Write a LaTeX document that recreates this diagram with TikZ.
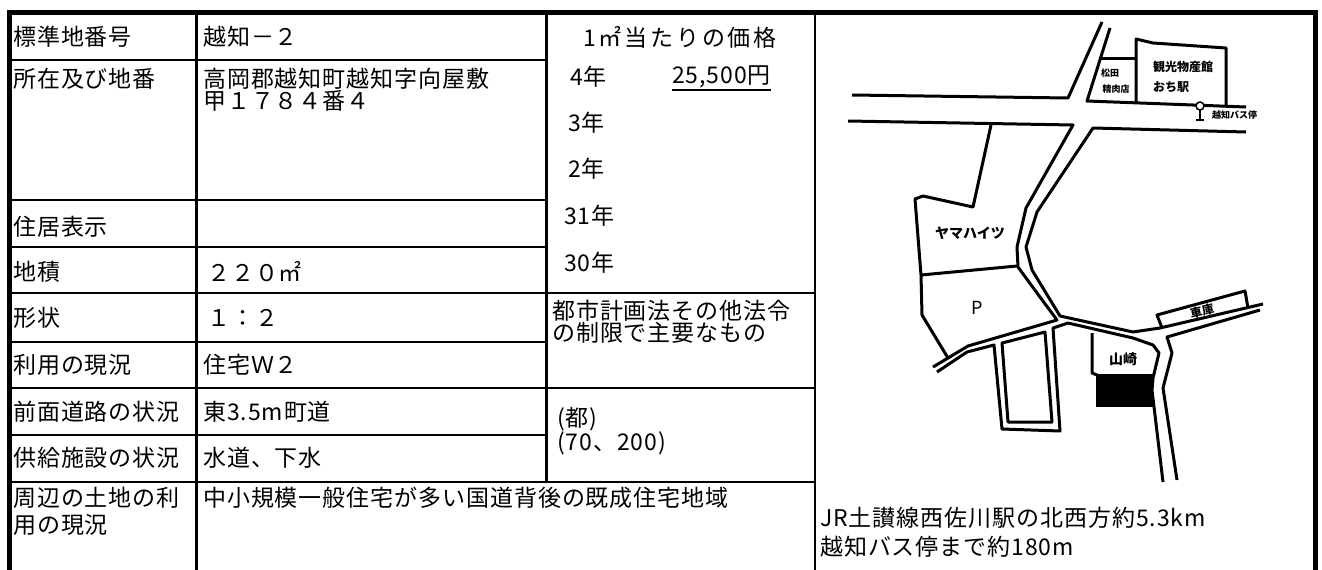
\documentclass[tikz,border=0pt]{standalone}
\usepackage{fontspec}
\setmainfont{Noto Sans CJK JP}[LetterSpace=4]
\newfontfamily\mapfont{Noto Sans CJK JP}
\usepackage{tikz}
\usetikzlibrary{positioning}
\newcommand{\tabfont}{\fontsize{23}{22.5}\selectfont}
\tikzstyle{frame} = [line width=5pt]
\tikzstyle{rule} = [line width=2.5pt]
\tikzstyle{celltext} = [anchor=west, inner sep=0pt, align=left, font=\tabfont]
\tikzstyle{road} = [line width=3pt, line join=round]
\tikzstyle{maptext} = [inner sep=0pt, font=\mapfont\bfseries\fontsize{12}{14}\selectfont]
\tikzstyle{smalltext} = [inner sep=0pt, font=\mapfont\bfseries\fontsize{9}{10}\selectfont]

\begin{document}
\begin{tikzpicture}[x=1pt,y=-1pt]
		\useasboundingbox (0,0) rectangle (1322,570);
		\draw [frame] (9.5,570) -- (9.5,12.5) -- (1315,12.5) -- (1315,570);
		\draw [rule] (196.5,12.5) -- (196.5,570);
		\draw [rule] (546.5,12.5) -- (546.5,482);
		\draw [rule] (815,12.5) -- (815,570);
		\foreach \y in {60,200,247,342,435} \draw [rule] (9.5,\y) -- (546.5,\y);
		\foreach \y in {293,388,482} \draw [rule] (9.5,\y) -- (815,\y);
		% left columns
		\node (k1) [celltext] at (13,37) {標準地番号};
		\node (k2) [celltext] at (13,78.5) {所在及び地番};
		\node (k3) [celltext] at (13,227) {住居表示};
		\node (k4) [celltext] at (13,272) {地積};
		\node (k5) [celltext] at (13,318) {形状};
		\node (k6) [celltext] at (13,365) {利用の現況};
		\node (k7) [celltext] at (13,412) {前面道路の状況};
		\node (k8) [celltext] at (13,458) {供給施設の状況};
		\node (k9) [celltext, font=\fontsize{23}{27}\selectfont] at (13,511.5) {周辺の土地の利\\用の現況};
		\node (v1) [celltext] at (203,37) {越知－２};
		\node (v2) [celltext] at (203,89.75) {高岡郡越知町越知字向屋敷\\甲１７８４番４};
		\node (v4) [celltext] at (207,272) {２２０㎡};
		\node (v5) [celltext] at (207,318) {１：２};
		\node (v6) [celltext] at (203,365) {住宅Ｗ２};
		\node (v7) [celltext] at (203,412) {東3.5m町道};
		\node (v8) [celltext] at (203,458) {水道、下水};
		\node (v9) [celltext] at (203,498) {中小規模一般住宅が多い国道背後の既成住宅地域};
		% price column
		\node (price) [celltext, anchor=center, font=\addfontfeature{LetterSpace=12}\tabfont] at (680,37) {1㎡当たりの価格};
		\node (y4) [celltext] at (570,76.5) {4年};
		\node (y4v) [celltext] at (672,76.5) {25,500円};
		\draw [line width=1.5pt] ([yshift=-2pt]y4v.south west) -- ([yshift=-2pt]y4v.south east);
		\node (y3) [celltext] at (568,122.5) {3年};
		\node (y2) [celltext] at (568,169) {2年};
		\node (y31) [celltext] at (564,216) {31年};
		\node (y30) [celltext] at (564,262.5) {30年};
		\node (law) [celltext, font=\fontsize{23}{21.5}\selectfont] at (552,321.75) {都市計画法その他法令\\の制限で主要なもの};
		\node (zone) [celltext, font=\fontsize{23}{23}\selectfont] at (557,431) {(都)\\(70、200)};
		\node (access) [celltext, font=\fontsize{23}{29.5}\selectfont] at (820,532) {JR土讃線西佐川駅の北西方約5.3km\\越知バス停まで約180m};
		% map
		\draw [road] (852,95) -- (1068,98) -- (1102,22);
		\draw [road] (1110,28) -- (1087,101) -- (1246,107);
		\draw [road] (848,121) -- (1073,125) -- (1026,208) -- (1017,247) -- (1018,267) -- (1037,293) -- (1057,320) -- (968,346) -- (933,367);
		\draw [road] (1246,132) -- (1093,128) -- (1037,212) -- (1026,247) -- (1032,270) -- (1060,316) -- (1133,332) -- (1160,328) -- (1263,304);
		\draw [road] (937,372) -- (967,352) -- (994,345) -- (1002,429) -- (1060,431) -- (1053,328) -- (1068,323) -- (1133,338) -- (1153,345) -- (1159,353) -- (1153,378) -- (1152,390) -- (1163,482);
		\draw [road] (1260,310) -- (1167,337) -- (1172,353) -- (1163,388) -- (1177,480);
		\draw [road] (1002,343) -- (1045,332) -- (1052,422) -- (1008,422) -- cycle;
		\draw [road] (1162,328) -- (1157,315) -- (1245,291) -- (1248,308);
		\draw [road] (991,125) -- (973,207) -- (923,196) -- (915,199) -- (921,275) -- (922,315) -- (948,358);
		\draw [road] (921,275) -- (1017,266);
		\draw [road] (1100,58) -- (1136,58);
		\draw [road] (1136,102) -- (1136,39) -- (1153,43) -- (1226,48) -- (1226,106);
		\draw [road] (1092,333) -- (1092,373) -- (1097,375);
		\fill (1096,374) rectangle (1153,407);
		\draw [line width=1.5pt, fill=white] (1200,106) circle (4pt);
		\draw [line width=1.5pt] (1200,110) -- (1200,120) (1196,120) -- (1204,120);
		\node (matsuda) [smalltext] at (1110,73) {松田};
		\node (seiniku) [smalltext] at (1116,89) {精肉店};
		\node (kanko) [maptext, anchor=west] at (1153,67) {観光物産館};
		\node (ochi) [maptext, anchor=west] at (1153,87) {おち駅};
		\node (busstop) [smalltext, anchor=west] at (1212,115) {越知バス停};
		\node (yama) [maptext, font=\mapfont\bfseries\fontsize{14}{16}\selectfont] at (970,233) {ヤマハイツ};
		\node (park) [maptext, font=\mapfont\fontsize{18}{20}\selectfont] at (977,308) {P};
		\node (yamasaki) [maptext, font=\mapfont\bfseries\fontsize{14}{16}\selectfont] at (1123,359) {山崎};
		\node (garage) [maptext, rotate=13] at (1202,311) {車庫};
\end{tikzpicture}
\end{document}
